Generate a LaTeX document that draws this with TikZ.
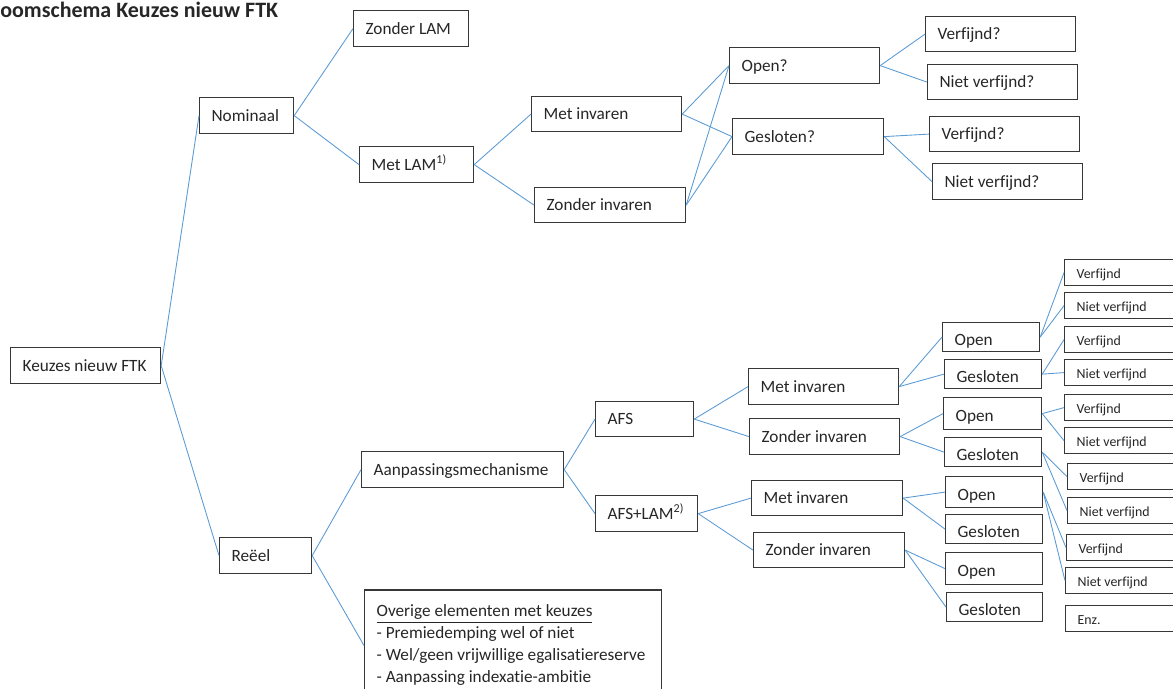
\documentclass[tikz,border=0pt]{standalone}
\usepackage{fontspec}
\setmainfont{Carlito}[Ligatures=NoCommon]
\definecolor{lijnblauw}{RGB}{91,155,213}
\definecolor{randgrijs}{RGB}{55,55,55}

\begin{document}
\begin{tikzpicture}[x=0.02cm,y=-0.02cm,
    bx/.style={draw=randgrijs,line width=0.7pt,anchor=north west,inner xsep=0.24cm,inner ysep=0pt,
        text=black!85,font=\fontsize{9.8}{11.8}\selectfont,text height=6.4pt,text depth=0pt,
        execute at begin node={\hbox to #1\bgroup},execute at end node={\hfil\egroup}},
    lo/.style={text height=9pt},
    klein/.style={bx=2.12cm,minimum height=0.52cm,font=\fontsize{7.9}{9.5}\selectfont,text height=6.8pt},
    ovrbox/.style={draw=randgrijs,line width=0.7pt,anchor=west,inner xsep=0.24cm,inner ysep=0pt,
        text=black!85,font=\fontsize{9.8}{12.5}\selectfont,
        execute at begin node={\hbox to #1\bgroup},execute at end node={\hfil\egroup}},
    lijn/.style={draw=lijnblauw,line width=0.5pt}]
        \useasboundingbox (0,0) rectangle (1173,689);
        \clip (0,0) rectangle (1173,689);

        % titel
        \node[anchor=base west,inner sep=0pt,font=\fontsize{12.5}{15}\selectfont\bfseries,text=black!85] (titel) at (0,18) {oomschema Keuzes nieuw FTK};

        % nominaal
        \node[bx=2.52cm,minimum height=0.72cm] (ftk) at (10,347) {Keuzes nieuw FTK};
        \node[bx=1.40cm,minimum height=0.72cm] (nom) at (199,97) {Nominaal};
        \node[bx=1.82cm,minimum height=0.72cm] (zlam) at (353,10) {Zonder LAM};
        \node[bx=1.80cm,minimum height=0.72cm] (mlam) at (359,146) {Met LAM\textsuperscript{1)}};
        \node[bx=2.52cm,minimum height=0.70cm] (mi1) at (531,96) {Met invaren};
        \node[bx=2.54cm,minimum height=0.70cm] (zi1) at (534,187) {Zonder invaren};
        \node[bx=2.52cm,minimum height=0.72cm] (open1) at (729,47) {Open?};
        \node[bx=2.54cm,minimum height=0.72cm] (gesl1) at (732,118) {Gesloten?};
        \node[bx=2.52cm,minimum height=0.70cm] (vf1) at (925,16) {Verfijnd?};
        \node[bx=2.52cm,minimum height=0.70cm] (nvf1) at (927,64) {Niet verfijnd?};
        \node[bx=2.52cm,minimum height=0.70cm] (vf2) at (929,116) {Verfijnd?};
        \node[bx=2.52cm,minimum height=0.72cm] (nvf2) at (932,163) {Niet verfijnd?};

        % reeel
        \node[bx=1.36cm,minimum height=0.72cm] (reeel) at (219,537) {Reëel};
        \node[bx=3.56cm,minimum height=0.72cm] (aanp) at (361,451) {Aanpassingsmechanisme};
        \node[bx=1.48cm,minimum height=0.70cm] (afs) at (595,401) {AFS};
        \node[bx=1.56cm,minimum height=0.72cm] (afslam) at (595,495) {AFS+LAM\textsuperscript{2)}};
        \node[ovrbox=5.46cm,minimum height=2.22cm] (ovr) at (364,645.5)
            {\begin{tabular}{@{}l@{}}\underline{Overige elementen met keuzes}\\- Premiedemping wel of niet\\
            - Wel/geen vrijwillige egalisatiereserve\\- Aanpassing indexatie-ambitie\end{tabular}};
        \node[bx=2.52cm,minimum height=0.72cm] (mi2) at (748,368) {Met invaren};
        \node[bx=2.52cm,minimum height=0.72cm] (zi2) at (749,418) {Zonder invaren};
        \node[bx=2.54cm,minimum height=0.70cm] (mi3) at (751,480) {Met invaren};
        \node[bx=2.54cm,minimum height=0.70cm] (zi3) at (753,532) {Zonder invaren};

        \node[bx=1.46cm,lo,minimum height=0.58cm] (op1) at (942,322) {Open};
        \node[bx=1.46cm,lo,minimum height=0.58cm] (ge1) at (944,359) {Gesloten};
        \node[bx=1.48cm,lo,minimum height=0.64cm] (op2) at (943,397) {Open};
        \node[bx=1.46cm,lo,minimum height=0.58cm] (ge2) at (944,437) {Gesloten};
        \node[bx=1.46cm,lo,minimum height=0.62cm] (op3) at (945,476) {Open};
        \node[bx=1.46cm,lo,minimum height=0.58cm] (ge3) at (945,514) {Gesloten};
        \node[bx=1.46cm,lo,minimum height=0.64cm] (op4) at (945,552) {Open};
        \node[bx=1.44cm,lo,minimum height=0.58cm] (ge4) at (946,592) {Gesloten};

        \foreach \n/\x/\y/\t in {r1/1064/259/Verfijnd,r2/1064/292/Niet verfijnd,r3/1064/326/Verfijnd,
            r4/1064/359/Niet verfijnd,r5/1064/394/Verfijnd,r6/1064/427/Niet verfijnd,r7/1067/463/Verfijnd,
            r8/1067/497/Niet verfijnd,r9/1066/534/Verfijnd,r10/1065/567/Niet verfijnd,enz/1065/605/Enz.}
            \node[klein] (\n) at (\x,\y) {\t};

        % verbindingen
        \foreach \a/\b in {ftk/nom,ftk/reeel,nom/zlam,nom/mlam,mlam/mi1,mlam/zi1,
            mi1/open1,mi1/gesl1,zi1/open1,zi1/gesl1,open1/vf1,open1/nvf1,gesl1/vf2,gesl1/nvf2,
            reeel/aanp,reeel/ovr,aanp/afs,aanp/afslam,afs/mi2,afs/zi2,afslam/mi3,afslam/zi3,
            mi2/op1,mi2/ge1,zi2/op2,zi2/ge2,mi3/op3,mi3/ge3,zi3/op4,zi3/ge4,
            op1/r1,op1/r2,ge1/r3,ge1/r4,op2/r5,op2/r6,ge2/r7,ge2/r8,op3/r9,op3/r10}
            \draw[lijn] (\a.east) -- (\b.west);
    \end{tikzpicture}
\end{document}
